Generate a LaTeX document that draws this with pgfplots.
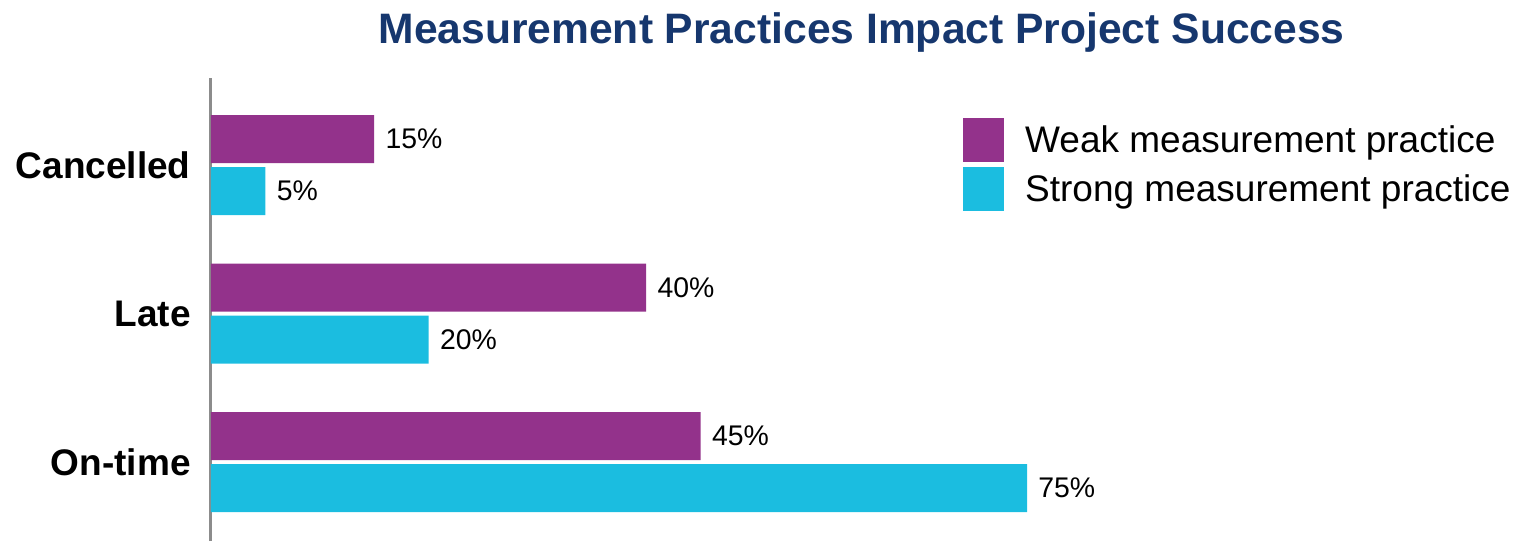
\documentclass[border=0pt]{standalone}
\usepackage{fontspec}
\setmainfont{Liberation Sans}
\usepackage{pgfplots}
\pgfplotsset{compat=1.18}
\definecolor{weak}{RGB}{147,50,139}
\definecolor{strong}{RGB}{27,189,224}
\definecolor{navy}{RGB}{22,55,110}
\definecolor{axisgray}{RGB}{140,140,140}
\begin{document}
\begin{tikzpicture}
\begin{axis}[
  at={(0,0)}, anchor=south west,
  scale only axis, width=544pt, height=231.5pt,
  xbar, bar width=24pt,
  xmin=0, xmax=100, ymin=-0.532, ymax=2.586,
  axis lines*=left,
  x axis line style={draw=none},
  y axis line style={axisgray, line width=1.5pt},
  xtick=\empty,
  ytick={0,1,2},
  yticklabels={On-time,Late,Cancelled},
  yticklabel style={font=\fontsize{18.5}{20}\selectfont\bfseries, inner xsep=0pt, xshift=-10pt},
  major tick length=0pt,
  point meta=x,
  /pgf/number format/assume math mode=true,
  nodes near coords={\pgfmathprintnumber{\pgfplotspointmeta}\%},
  every node near coord/.append style={font=\fontsize{14.2}{16}\selectfont, text=black, inner xsep=0pt, xshift=5.5pt},
  title={Measurement Practices Impact Project Success},
  title style={at={(0.598,1)}, anchor=base, yshift=11pt, font=\fontsize{21.3}{24}\selectfont\bfseries, text=navy, inner sep=0pt},
  legend style={at={(0.691,0.9136)}, anchor=north west, draw=none, fill=none,
    font=\fontsize{18.5}{20}\selectfont, inner sep=0pt, row sep=2.5pt,
    nodes={inner sep=0pt}, column sep=10.5pt},
  legend cell align=left,
  legend image code/.code={\fill[#1] (0pt,-11pt) rectangle (20.5pt,11pt);},
]
\addplot[fill=weak, draw=none, bar shift=13pt] coordinates {(15,2) (40,1) (45,0)};
\addplot[fill=strong, draw=none, bar shift=-13pt] coordinates {(5,2) (20,1) (75,0)};
\legend{Weak measurement practice, Strong measurement practice}
\end{axis}
\pgfresetboundingbox
\path (-105.5pt,0pt) rectangle (651pt,270.5pt);
\end{tikzpicture}
\end{document}
